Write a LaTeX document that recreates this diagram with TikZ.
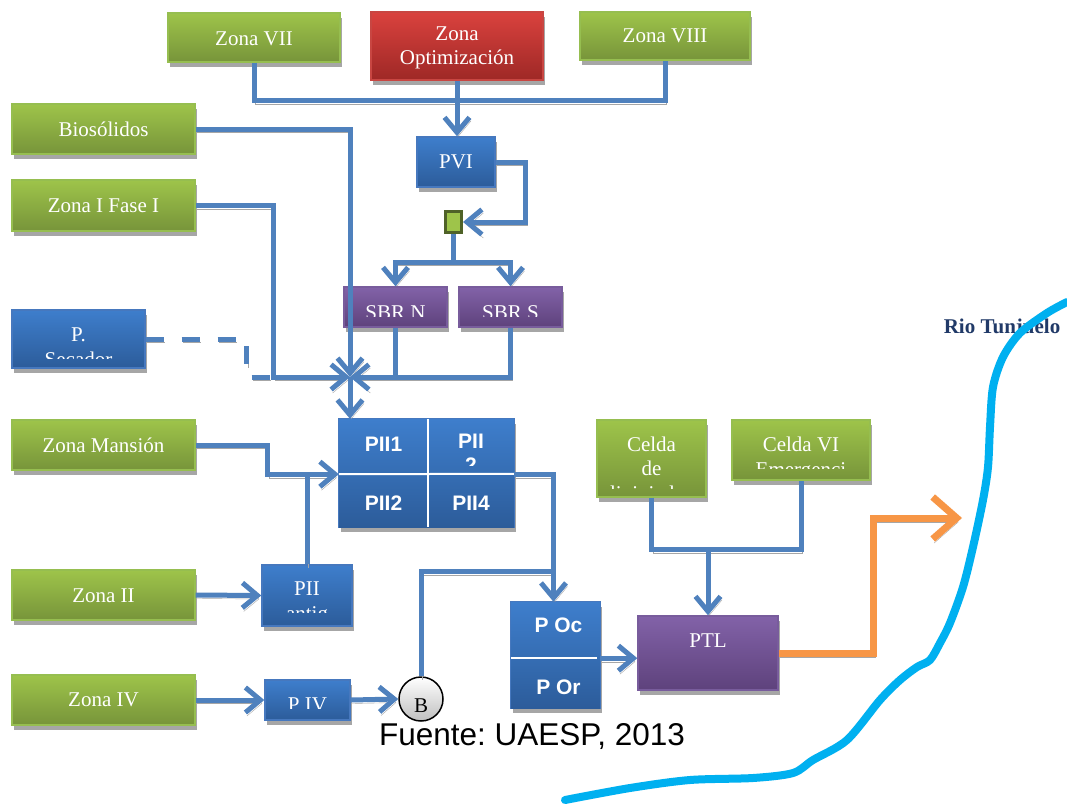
\documentclass[tikz,border=0pt]{standalone}
\usepackage{fontspec}
\setmainfont{Liberation Serif}
\setsansfont{Liberation Sans}
\usepackage{tikz}
\usetikzlibrary{arrows.meta,positioning,calc,shadows}
\definecolor{LineBlue}{RGB}{79,129,189}
\definecolor{GreenTop}{RGB}{158,196,74}
\definecolor{GreenBot}{RGB}{119,148,58}
\definecolor{GreenRim}{RGB}{150,190,80}
\definecolor{RedTop}{RGB}{218,66,62}
\definecolor{RedBot}{RGB}{158,40,38}
\definecolor{RedRim}{RGB}{200,70,66}
\definecolor{BlueTop}{RGB}{62,126,204}
\definecolor{BlueBot}{RGB}{44,92,154}
\definecolor{BlueRim}{RGB}{70,120,190}
\definecolor{PurpTop}{RGB}{130,98,168}
\definecolor{PurpBot}{RGB}{94,66,124}
\definecolor{PurpRim}{RGB}{120,92,156}
\definecolor{SqDark}{RGB}{79,98,40}
\definecolor{PipeOrange}{RGB}{247,150,70}
\definecolor{RiverCyan}{RGB}{0,176,240}
\definecolor{RioText}{RGB}{33,58,104}
\newcommand{\clipin}{9}
\frenchspacing

\begin{document}
\begin{tikzpicture}[
  x=1pt, y=-1pt,
  >={Straight Barb[length=15pt,width=25pt]},
  box/.style={rectangle, inner sep=0pt, line width=1.4pt,
    drop shadow={shadow xshift=2pt, shadow yshift=-5pt, fill=black!35, opacity=1}},
  gzone/.style={box, draw=GreenRim, top color=GreenTop, bottom color=GreenBot},
  rzone/.style={box, draw=RedRim, top color=RedTop, bottom color=RedBot},
  bzone/.style={box, draw=BlueRim, top color=BlueTop, bottom color=BlueBot},
  pzone/.style={box, draw=PurpRim, top color=PurpTop, bottom color=PurpBot},
  cell/.style={rectangle, inner sep=0pt, draw=none},
  cutoff/.code={\def\clipin{#1}},
  txt/.style 2 args={path picture={
    \clip ([yshift=\clipin pt]path picture bounding box.south west) rectangle (path picture bounding box.north east);
    \node[text=white, font=\fontsize{21}{24.5}\selectfont, align=center, inner sep=0pt, anchor=center]
      at ([yshift={-(#1)*1pt}]path picture bounding box.center) {#2};}},
  stxt/.style 2 args={path picture={
    \clip ([yshift=\clipin pt]path picture bounding box.south west) rectangle (path picture bounding box.north east);
    \node[text=white, font=\sffamily\bfseries\fontsize{21}{24.5}\selectfont, align=center, inner sep=0pt, anchor=center]
      at ([yshift={-(#1)*1pt}]path picture bounding box.center) {#2};}},
  pipe/.style={draw=LineBlue, line width=5pt,
    preaction={draw=black!35, transform canvas={xshift=1.5pt, yshift=-3.5pt}}},
  dpipe/.style={draw=LineBlue, line width=5pt, dash pattern=on 18pt off 18pt,
    preaction={draw=black!35, dash pattern=on 18pt off 18pt, transform canvas={xshift=1.5pt, yshift=-3.5pt}}},
  hot/.style={draw=PipeOrange, line width=7pt,
    preaction={draw=black!35, transform canvas={xshift=1.5pt, yshift=-4pt}}},
]
\useasboundingbox (0,0) rectangle (1067,803);
\fill[white] (0,0) rectangle (1067,803);

% top row
\node[gzone, minimum width=172pt, minimum height=49pt, txt={1}{Zona VII}] (z7) at (254,37.5) {};
\node[rzone, minimum width=172pt, minimum height=68pt, txt={2}{Zona\\Optimización}] (zo) at (457,46) {};
\node[gzone, minimum width=170pt, minimum height=48pt, txt={0}{Zona VIII}] (z8) at (665,36) {};

% left column
\node[gzone, minimum width=183pt, minimum height=50pt, txt={0}{Biosólidos}] (bio) at (103.5,129) {};
\node[gzone, minimum width=183pt, minimum height=51pt, txt={0}{Zona I Fase I}] (z1) at (103.5,205.5) {};
\node[bzone, minimum width=133pt, minimum height=58pt, cutoff=10, txt={8}{P.\\Secador}] (psec) at (78.5,339) {};
\node[gzone, minimum width=183pt, minimum height=50pt, txt={0}{Zona Mansión}] (zm) at (103.5,445) {};
\node[gzone, minimum width=183pt, minimum height=50pt, txt={1}{Zona II}] (z2) at (103.5,595) {};
\node[gzone, minimum width=183pt, minimum height=50pt, txt={0}{Zona IV}] (z4) at (103.5,700) {};

% treatment
\node[bzone, minimum width=78pt, minimum height=50pt, txt={0}{PVI}] (pvi) at (456,162) {};
\node[rectangle, draw=SqDark, line width=3pt, fill=GreenTop, minimum width=16pt, minimum height=21pt, inner sep=0pt] (sq) at (453.5,222) {};
\node[pzone, minimum width=103pt, minimum height=40pt, cutoff=11, txt={6}{SBR N}] (sbrn) at (395.5,307) {};
\node[pzone, minimum width=103pt, minimum height=40pt, cutoff=11, txt={6}{SBR S}] (sbrs) at (510.5,307) {};

\node[bzone, minimum width=175pt, minimum height=108pt] (pii) at (426.5,473) {};
\node[cell, top color=BlueTop, bottom color=BlueTop!50!BlueBot, minimum width=89pt, minimum height=55pt, stxt={-2}{PII1}] (pii1) at (383.5,446.5) {};
\node[cell, top color=BlueTop, bottom color=BlueTop!50!BlueBot, minimum width=86pt, minimum height=55pt, stxt={7}{PII\\2}] (pii3) at (471,446.5) {};
\node[cell, top color=BlueTop!50!BlueBot, bottom color=BlueBot, minimum width=89pt, minimum height=53pt, stxt={3}{PII2}] (pii2) at (383.5,500.5) {};
\node[cell, top color=BlueTop!50!BlueBot, bottom color=BlueBot, minimum width=86pt, minimum height=53pt, stxt={3}{PII4}] (pii4) at (471,500.5) {};
\draw[white, line width=2pt] (pii1.north east) -- (pii2.south east);
\draw[white, line width=2pt] (pii1.south west) -- (pii4.north east);

\node[bzone, minimum width=90pt, minimum height=61pt, cutoff=14, txt={8}{PII\\antig}] (piia) at (307,595.5) {};
\node[bzone, minimum width=85pt, minimum height=40pt, cutoff=12, txt={5}{P IV}] (piv) at (307.5,700) {};
\node[circle, draw=black, line width=1.5pt, top color=white, bottom color=black!25, minimum size=44pt, inner sep=0pt, txt={7}{\textcolor{black}{B}}] (B) at (421,699) {};

\node[bzone, minimum width=89pt, minimum height=106pt] (po) at (555.5,655) {};
\node[cell, top color=BlueTop, bottom color=BlueTop!50!BlueBot, minimum width=89pt, minimum height=56pt, stxt={-5}{\hspace*{6pt}P Oc}] (poc) at (555.5,630) {};
\node[cell, top color=BlueTop!50!BlueBot, bottom color=BlueBot, minimum width=89pt, minimum height=50pt, stxt={4}{\hspace*{6pt}P Or}] (por) at (555.5,683) {};
\draw[white, line width=2pt] (poc.south west) -- ([xshift=-3pt]poc.south east);

\node[gzone, minimum width=109pt, minimum height=77pt, txt={10}{Celda\\de\\lixiviados}] (cde) at (651.5,458.5) {};
\node[gzone, minimum width=138pt, minimum height=60pt, cutoff=12, txt={19}{Celda VI\\Emergenci\\a}] (c6) at (801,450) {};
\node[pzone, minimum width=140pt, minimum height=74pt, txt={-12}{PTL}] (ptl) at (708,653) {};

% connectors
\coordinate (J) at (350,377);
\coordinate (out) at (962,518);
\draw[pipe] (z7.south) -- ++(0,38) -| (z8.south);
\draw[pipe,->] (zo.south) -- (zo.south |- pvi.north);
\draw[pipe,->] (pvi.east) -- ++(30,0) |- (sq.east);
\draw[pipe] (sq.south) -- ++(0,28) coordinate (sp);
\draw[pipe,->] (sp) -| (sbrn.north);
\draw[pipe,->] (sp) -| (sbrs.north);
\draw[dpipe] (psec.east) -- ++(101,0) |- (J);
\draw[pipe,->] (z1.east) -- ++(78,0) |- (J);
\draw[pipe,->] (bio.east) -| (J);
\draw[pipe] (sbrn.south) -- (sbrn.south |- J);
\draw[pipe,->] (sbrs.south) |- (J);
\draw[pipe,->] (J) -- (J |- pii1.north);
\draw[pipe,->] (zm.east) -- ++(72,0) |- (pii1.south west);
\draw[pipe] (piia.north) -- (piia.north |- pii1.south west);
\draw[pipe,->] (z2.east) -- (piia.west);
\draw[pipe,->] (z4.east) -- (piv.west);
\draw[pipe,->] (piv.east) -- (B.west);
\draw[pipe] (B.north) |- ($(poc.north)+(-2,-30)$);
\draw[pipe,->] (pii3.south east) -| ([xshift=-2pt]poc.north);
\draw[pipe,->] (poc.south east) -- (poc.south east -| ptl.west);
\draw[pipe] (cde.south) -- ++(0,52) coordinate (cj) -| (c6.south);
\draw[pipe,->] (cj -| ptl.north) -- (ptl.north);
\draw[hot, -{Straight Barb[length=24pt,width=42pt]}] (ptl.east) -- ++(95,0) |- (out);

% river
\node[font=\bfseries\fontsize{21}{25}\selectfont, text=RioText] (rio) at (1002,328) {Rio Tunjuelo};
\draw[RiverCyan, line width=8pt, line cap=round, line join=round] plot[smooth, tension=0.5] coordinates {
  (565,800) (630,788) (690,780) (753,778) (793,773) (813,760) (847,740) (880,700) (900,680)
  (917,667) (930,660) (940,643) (950,623) (963,587) (973,547) (983,500) (988,467) (990,427)
  (993,387) (1003,357) (1020,333) (1047,313) (1067,302)};

\node[font=\sffamily\fontsize{31.5}{36}\selectfont] (src) at (532,737) {Fuente: UAESP, 2013};
\end{tikzpicture}
\end{document}
